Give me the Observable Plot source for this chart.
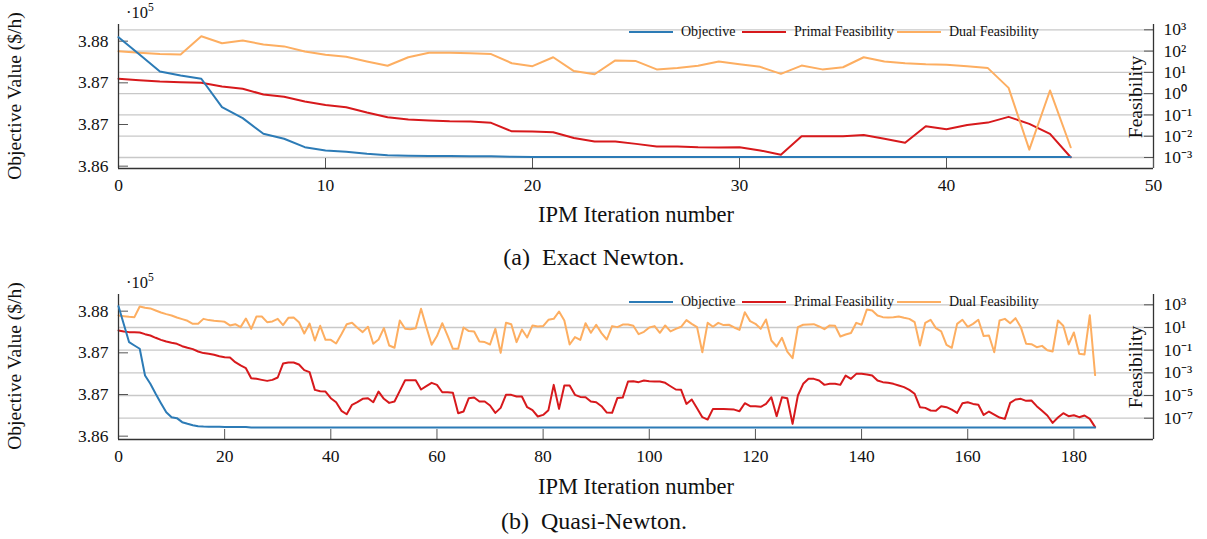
<!DOCTYPE html>
<html><head><meta charset="utf-8">
<script src="https://cdn.jsdelivr.net/npm/d3@7"></script>
<script src="https://cdn.jsdelivr.net/npm/@observablehq/plot@0.6"></script>
<style>
body{margin:0;background:#fff;font-family:"Liberation Serif",serif;color:#111}
#wrap{position:relative;width:1207px;height:539px;overflow:hidden;background:#fff}
.layer{position:absolute;left:0}
.t{position:absolute;white-space:nowrap;line-height:1}
.t sup{font-size:0.7em;vertical-align:0.55em;line-height:0}
.leg{position:absolute;display:flex;align-items:center;font-size:14px;line-height:1;transform:translateY(-50%)}
.sw{display:inline-block;width:44px;height:2px;margin-right:8px}
</style></head><body><div id="wrap"></div>
<script>
// ---------- data ----------
const seriesNames = ["Objective", "Primal Feasibility", "Dual Feasibility"];
const seriesColors = ["#2c7bb6", "#d7191c", "#fdae61"];

const xTicksA = [0, 10, 20, 30, 40, 50];
const xTicksB = [0, 20, 40, 60, 80, 100, 120, 140, 160, 180];
const objTicks = [386500, 387000, 387500, 388000];
const objTickLabels = ["3.86", "3.87", "3.87", "3.88"];
const feasTicksA = [1e-3, 1e-2, 1e-1, 1, 1e1, 1e2, 1e3];
const feasTickLabelsA = ["10⁻³", "10⁻²", "10⁻¹", "10⁰", "10¹", "10²", "10³"];
const feasTicksB = [1e-7, 1e-5, 1e-3, 1e-1, 1e1, 1e3];
const feasTickLabelsB = ["10⁻⁷", "10⁻⁵", "10⁻³", "10⁻¹", "10¹", "10³"];

// (a) Exact Newton — objective in $/h, feasibilities as log10 values
const objectiveA = [388048, 387843, 387636, 387588, 387549, 387208, 387076, 386889, 386829, 386728,
  386688, 386673, 386649, 386632, 386625, 386621, 386621, 386620, 386618, 386613,
  386610, 386610, 386610, 386610, 386610, 386610, 386610, 386610, 386610, 386610,
  386610, 386610, 386610, 386610, 386610, 386610, 386610, 386610, 386610, 386610,
  386610, 386610, 386610, 386610, 386610, 386610, 386610];
const primalA_log10 = [0.70, 0.63, 0.57, 0.54, 0.51, 0.34, 0.23, -0.04, -0.15, -0.37,
  -0.53, -0.64, -0.89, -1.11, -1.22, -1.26, -1.30, -1.31, -1.37, -1.77,
  -1.78, -1.81, -2.08, -2.25, -2.25, -2.36, -2.48, -2.48, -2.52, -2.53,
  -2.52, -2.67, -2.87, -2.00, -2.00, -2.00, -1.94, -2.12, -2.31, -1.53,
  -1.67, -1.47, -1.36, -1.09, -1.42, -1.89, -2.99];
const dualA_log10 = [1.99, 1.92, 1.86, 1.84, 2.70, 2.37, 2.50, 2.31, 2.22, 1.98,
  1.83, 1.73, 1.51, 1.31, 1.71, 1.92, 1.92, 1.90, 1.86, 1.43,
  1.29, 1.71, 1.06, 0.91, 1.56, 1.53, 1.14, 1.20, 1.31, 1.51,
  1.38, 1.26, 0.93, 1.32, 1.14, 1.24, 1.71, 1.51, 1.43, 1.38,
  1.36, 1.29, 1.20, 0.27, -2.63, 0.15, -2.52];

// (b) Quasi-Newton
const objectiveB = [388060, 387844, 387628, 387588, 387549, 387228, 387129, 387009, 386896, 386788,
  386728, 386716, 386668, 386649, 386632, 386620, 386616, 386614, 386614, 386614,
  386610, 386610, 386610, 386610, 386610, 386604, 386604, 386604, 386604, 386604,
  386604, 386604, 386604, 386604, 386604, 386604, 386604, 386604, 386604, 386604,
  386604, 386604, 386604, 386604, 386604, 386604, 386604, 386604, 386604, 386604,
  386604, 386604, 386604, 386604, 386604, 386604, 386604, 386604, 386604, 386604,
  386604, 386604, 386604, 386604, 386604, 386604, 386604, 386604, 386604, 386604,
  386604, 386604, 386604, 386604, 386604, 386604, 386604, 386604, 386604, 386604,
  386604, 386604, 386604, 386604, 386604, 386604, 386604, 386604, 386604, 386604,
  386604, 386604, 386604, 386604, 386604, 386604, 386604, 386604, 386604, 386604,
  386604, 386604, 386604, 386604, 386604, 386604, 386604, 386604, 386604, 386604,
  386604, 386604, 386604, 386604, 386604, 386604, 386604, 386604, 386604, 386604,
  386604, 386604, 386604, 386604, 386604, 386604, 386604, 386604, 386604, 386604,
  386604, 386604, 386604, 386604, 386604, 386604, 386604, 386604, 386604, 386604,
  386604, 386604, 386604, 386604, 386604, 386604, 386604, 386604, 386604, 386604,
  386604, 386604, 386604, 386604, 386604, 386604, 386604, 386604, 386604, 386604,
  386604, 386604, 386604, 386604, 386604, 386604, 386604, 386604, 386604, 386604,
  386604, 386604, 386604, 386604, 386604, 386604, 386604, 386604, 386604, 386604,
  386604, 386604, 386604, 386604, 386604];
const primalB_log10 = [0.74, 0.65, 0.59, 0.59, 0.56, 0.41, 0.29, 0.09, -0.09, -0.24,
  -0.35, -0.44, -0.65, -0.79, -0.91, -1.12, -1.26, -1.32, -1.41, -1.53,
  -1.62, -1.65, -2.06, -2.35, -2.59, -3.47, -3.53, -3.62, -3.71, -3.62,
  -3.41, -2.18, -2.09, -2.09, -2.26, -2.76, -2.94, -4.50, -4.62, -4.65,
  -5.24, -5.59, -6.35, -6.65, -5.82, -5.59, -5.29, -5.24, -5.59, -4.65,
  -5.29, -5.65, -5.53, -4.59, -3.65, -3.65, -3.65, -4.47, -4.18, -3.88,
  -4.06, -4.71, -4.71, -4.76, -6.56, -6.41, -5.24, -5.18, -5.53, -5.53,
  -5.88, -6.53, -6.09, -4.94, -4.94, -5.09, -5.09, -6.03, -6.29, -6.85,
  -6.71, -6.29, -4.06, -6.18, -4.12, -4.12, -4.94, -5.12, -5.15, -5.53,
  -5.59, -5.94, -6.50, -6.53, -5.21, -5.18, -3.76, -3.74, -3.82, -3.68,
  -3.74, -3.76, -3.76, -3.88, -4.18, -4.47, -4.50, -5.74, -5.35, -6.12,
  -6.91, -7.12, -6.18, -6.18, -6.18, -6.21, -6.24, -6.38, -5.68, -5.94,
  -5.94, -6.00, -5.74, -5.15, -6.82, -5.15, -5.24, -7.50, -5.00, -3.97,
  -3.53, -3.53, -3.68, -4.06, -3.97, -3.97, -4.06, -3.24, -3.53, -3.09,
  -3.09, -3.15, -3.24, -3.68, -3.82, -3.88, -3.97, -4.12, -4.26, -4.50,
  -4.85, -6.03, -6.09, -6.32, -6.35, -5.94, -6.03, -6.24, -6.53, -5.68,
  -5.59, -5.74, -5.82, -6.71, -6.41, -6.68, -6.94, -7.06, -5.65, -5.35,
  -5.29, -5.47, -5.44, -5.94, -6.35, -6.76, -7.41, -6.94, -6.56, -6.82,
  -6.74, -6.91, -6.76, -7.06, -7.79];
const dualB_log10 = [2.06, 2.00, 1.94, 1.91, 2.85, 2.74, 2.68, 2.50, 2.32, 2.18,
  2.06, 1.88, 1.74, 1.59, 1.32, 1.32, 1.76, 1.65, 1.59, 1.56,
  1.50, 1.18, 1.29, 1.03, 1.79, 0.88, 1.97, 1.97, 1.47, 1.53,
  1.76, 1.21, 1.85, 1.88, 1.47, 0.47, 1.35, -0.15, 1.15, -0.09,
  -0.09, -0.41, 0.41, 1.29, 1.41, 0.97, 0.59, 1.06, -0.44, -0.06,
  0.94, -0.59, -0.79, 1.62, 0.88, 0.85, 0.94, 2.65, 1.03, -0.53,
  0.24, 1.38, 0.29, -0.88, -0.88, 1.00, 0.68, 0.65, -0.24, -0.29,
  -0.50, 0.88, -1.24, 1.41, 1.29, -0.29, 0.82, 0.12, 1.18, 1.09,
  1.12, 1.68, 1.76, 2.41, 1.62, -0.50, 0.15, -0.09, 1.38, 0.53,
  1.24, 0.50, -0.06, 1.12, 1.03, 1.26, 1.26, 1.15, 0.41, 0.62,
  1.00, 1.12, 0.53, 1.18, 0.65, 0.88, 1.06, 1.65, 1.32, 1.03,
  -1.18, 1.41, 1.06, 1.41, 1.21, 1.24, 1.00, 0.79, 2.35, 1.56,
  1.32, 0.88, 1.71, -0.15, -0.68, 0.09, -1.12, -1.71, 1.03, 1.24,
  1.26, 1.29, 1.09, 0.85, 1.18, 1.15, 0.21, 0.38, 0.52, 1.41,
  1.24, 2.59, 2.50, 2.06, 1.91, 1.88, 1.91, 1.97, 1.85, 1.76,
  1.47, -0.59, 1.41, 1.68, 0.94, 0.65, -0.53, -0.79, 1.32, 1.68,
  1.06, 1.32, 1.68, 0.24, 0.29, -1.18, 1.62, 1.76, 1.38, 1.82,
  1.03, -0.44, -0.47, -0.74, -0.62, -1.00, -1.12, 1.62, 1.15, -0.50,
  0.56, -1.32, -1.38, 2.08, -3.20];

// ---------- drawing ----------
const W = 1207;
const wrap = document.getElementById("wrap");
const FONT = "Liberation Serif";
const AX = "#333";

function panel(cfg) {
  const common = {
    width: W, height: cfg.h,
    marginLeft: 118, marginRight: 54, marginTop: cfg.mTop, marginBottom: cfg.mBottom,
    style: {fontFamily: FONT, fontSize: "17px", color: "#111", background: "transparent", overflow: "visible"}
  };
  const objLabel = new Map(objTicks.map((t, i) => [t, objTickLabels[i]]));
  const feasLabel = new Map(cfg.feasTicks.map((t, i) => [t, cfg.feasLabels[i]]));

  const feas = Plot.plot({
    ...common,
    x: {domain: cfg.xDomain, axis: null},
    y: {type: "log", domain: cfg.yFeasDomain},
    marks: [
      Plot.gridY(cfg.feasTicks, {stroke: "#c8c8c8", strokeOpacity: 1, strokeWidth: 1.3}),
      Plot.axisY(cfg.feasTicks, {anchor: "right", tickSize: 0, tickPadding: 10, tickFormat: d => feasLabel.get(d), label: null, fontSize: 17.5}),
      Plot.axisY(cfg.feasTicks, {anchor: "right", tickSize: 10, dx: -10, fill: "none", stroke: "#555", label: null}),
      Plot.ruleX([cfg.xDomain[1]], {stroke: AX, strokeWidth: 1.3}),
      Plot.lineY(cfg.primal, {x: (d, i) => i, y: d => 10 ** d, stroke: seriesColors[1], strokeWidth: 2}),
      Plot.lineY(cfg.dual, {x: (d, i) => i, y: d => 10 ** d, stroke: seriesColors[2], strokeWidth: 2})
    ]
  });
  const obj = Plot.plot({
    ...common,
    x: {domain: cfg.xDomain},
    y: {domain: cfg.yObjDomain},
    marks: [
      Plot.axisY(objTicks, {anchor: "left", tickSize: 0, tickPadding: 10, tickFormat: d => objLabel.get(d), label: null, fontSize: 17.5}),
      Plot.axisY(objTicks, {anchor: "left", tickSize: 10, dx: 10, fill: "none", stroke: "#555", label: null}),
      Plot.axisX(cfg.xTicks, {anchor: "bottom", tickSize: 0, tickPadding: 10, label: null, fontSize: 17.5}),
      Plot.axisX(cfg.xTicks, {anchor: "bottom", tickSize: 10, dy: -10, fill: "none", stroke: "#555", label: null}),
      Plot.ruleX([cfg.xDomain[0]], {stroke: AX, strokeWidth: 1.3}),
      Plot.ruleY([cfg.yObjDomain[0]], {stroke: AX, strokeWidth: 1.3}),
      Plot.lineY(cfg.obj, {x: (d, i) => i, y: d => d, stroke: seriesColors[0], strokeWidth: 2})
    ]
  });
  for (const svg of [feas, obj]) {
    svg.classList.add("layer");
    svg.style.top = cfg.top + "px";
    wrap.appendChild(svg);
  }
}

function addText(html, left, top, size, mode) {
  const d = document.createElement("div");
  d.className = "t";
  d.innerHTML = html;
  d.style.left = left + "px";
  d.style.top = top + "px";
  d.style.fontSize = size + "px";
  d.style.transform = mode === "rot" ? "translate(-50%,-50%) rotate(-90deg)"
    : mode === "mid" ? "translate(-50%,-50%)" : "translate(0,-50%)";
  wrap.appendChild(d);
}

function legend(cy) {
  const lefts = [629, 742, 897];
  seriesNames.forEach((name, i) => {
    const d = document.createElement("div");
    d.className = "leg";
    d.style.left = lefts[i] + "px";
    d.style.top = cy + "px";
    d.innerHTML = `<span class="sw" style="background:${seriesColors[i]}"></span><span>${name}</span>`;
    wrap.appendChild(d);
  });
}

panel({top: 0, h: 200, mTop: 24, mBottom: 32, xDomain: [0, 50], xTicks: xTicksA,
  yObjDomain: [386472, 388200], yFeasDomain: [10 ** -3.517, 10 ** 3.249],
  feasTicks: feasTicksA, feasLabels: feasTickLabelsA,
  obj: objectiveA, primal: primalA_log10, dual: dualA_log10});
panel({top: 270, h: 200, mTop: 24, mBottom: 31, xDomain: [0, 195], xTicks: xTicksB,
  yObjDomain: [386460, 388200], yFeasDomain: [10 ** -8.878, 10 ** 3.908],
  feasTicks: feasTicksB, feasLabels: feasTickLabelsB,
  obj: objectiveB, primal: primalB_log10, dual: dualB_log10});

legend(32);
legend(302);

for (const [yc, cap] of [[0, "(a)&ensp;Exact Newton."], [270, "(b)&ensp;Quasi-Newton."]]) {
  addText("·10<sup>5</sup>", 126, yc + 13, 16.5);
  addText("Objective Value ($/h)", 15, yc + 96, 19.5, "rot");
  addText("Feasibility", 1135.5, yc + 97, 19.5, "rot");
  addText("IPM Iteration number", 636, yc + 215 + (yc ? 2 : 0), 22.5, "mid");
  addText(cap, 594, yc + 257 - (yc ? 6 : 0), 24, "mid");
}
</script>
</body></html>
